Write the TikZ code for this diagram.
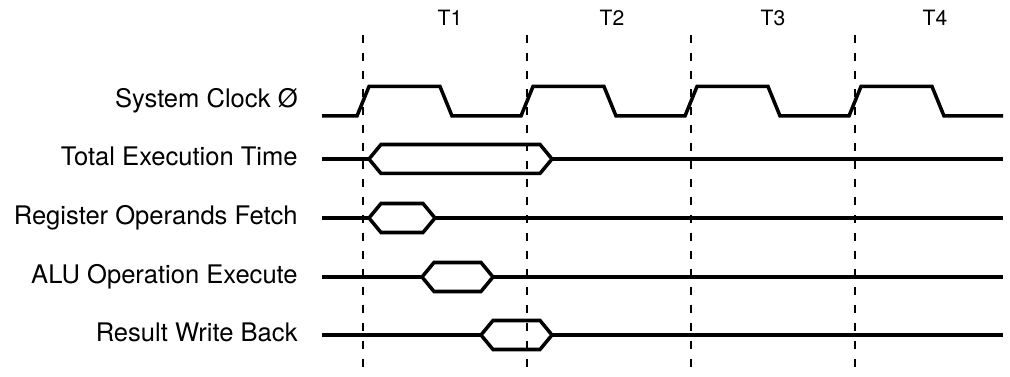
\documentclass[tikz,border=0pt]{standalone}
\usepackage{fontspec}
\setmainfont{TeX Gyre Heros}
\usepackage{tikz}
\usetikzlibrary{calc}

\begin{document}
\begin{tikzpicture}[
  signal/.style={line width=2pt, black, line join=miter},
  grid line/.style={line width=1.1pt, black, dash pattern=on 0.16cm off 0.2cm},
  row label/.style={anchor=mid east, inner sep=0pt, font=\fontsize{14.55}{16}\selectfont},
  phase label/.style={anchor=mid, inner sep=0pt, font=\fontsize{12}{14}\selectfont}
]
  \useasboundingbox (0,0) rectangle (20.2,7.54);

  % Phase boundaries
  \foreach \x [count=\i] in {7.26, 10.54, 13.82, 17.10} {
    \coordinate (top\i) at (\x, 6.84);
    \coordinate (bot\i) at (\x, 0);
    \draw[grid line] (top\i) -- (bot\i);
  }

  % Phase names
  \foreach \x [count=\i] in {9.00, 12.24, 15.46, 18.70}
    \node[phase label] (T\i) at (\x, 7.12) {T\i};

  % Row names
  \node[row label] (clk)    at (5.96, 5.48) {System Clock Ø};
  \node[row label] (total)  at (5.96, 4.33) {Total Execution Time};
  \node[row label] (fetch)  at (5.96, 3.15) {Register Operands Fetch};
  \node[row label] (alu)    at (5.96, 1.97) {ALU Operation Execute};
  \node[row label] (write)  at (5.96, 0.81) {Result Write Back};

  % System clock
  \draw[signal] (6.44, 5.22)
    \foreach \x in {7.26, 10.54, 13.82, 17.10} {
      -- (\x-0.12, 5.22) -- (\x+0.12, 5.81) -- (\x+1.54, 5.81) -- (\x+1.78, 5.22)
    } -- (20.06, 5.22);

  % Bus signals: row / opens / closes
  \foreach \y/\a/\b in {4.36/7.38/11.04, 3.18/7.38/8.70, 2.00/8.44/9.86, 0.84/9.62/11.04} {
    \draw[signal] (6.44, \y) -- (\a, \y);
    \draw[signal] (\a, \y) -- (\a+0.24, \y+0.29) -- (\b-0.24, \y+0.29) -- (\b, \y)
      -- (\b-0.24, \y-0.29) -- (\a+0.24, \y-0.29) -- cycle;
    \draw[signal] (\b, \y) -- (20.06, \y);
  }
\end{tikzpicture}
\end{document}
